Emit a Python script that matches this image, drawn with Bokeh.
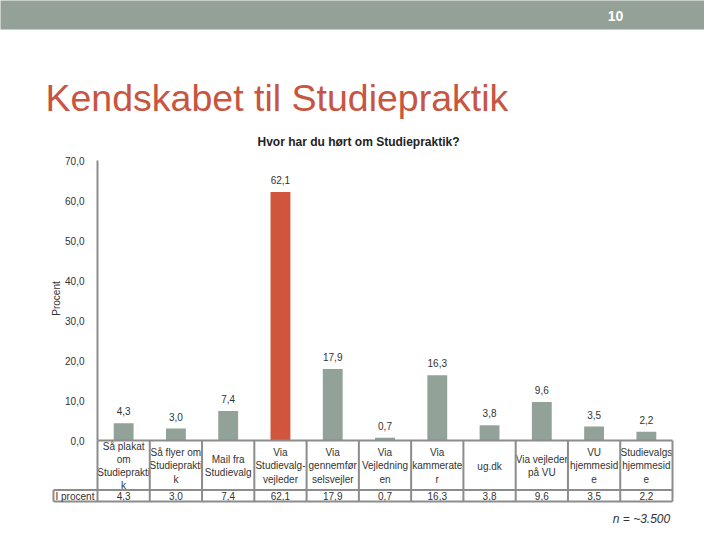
import numpy as np
from bokeh.plotting import figure
from bokeh.models import Range1d, FixedTicker, ColumnDataSource
from bokeh.embed import file_html
from bokeh.resources import INLINE
from bokeh.core.properties import value

# ---------------- data ----------------
categories = [
    "Så plakat\nom\nStudieprakti\nk",
    "Så flyer om\nStudieprakti\nk",
    "Mail fra\nStudievalg",
    "Via\nStudievalg-\nvejleder",
    "Via\ngennemfør\nselsvejler",
    "Via\nVejledning\nen",
    "Via\nkammerate\nr",
    "ug.dk",
    "Via vejleder\npå VU",
    "VU\nhjemmesid\ne",
    "Studievalgs\nhjemmesid\ne",
]
values = [4.3, 3.0, 7.4, 62.1, 17.9, 0.7, 16.3, 3.8, 9.6, 3.5, 2.2]
highlight = "Via\nStudievalg-\nvejleder"
y_ticks = [0, 10, 20, 30, 40, 50, 60, 70]
y_tick_labels = ["0,0", "10,0", "20,0", "30,0", "40,0", "50,0", "60,0", "70,0"]
row_label = "I procent"
axis_title = "Procent"
chart_title = "Hvor har du hørt om Studiepraktik?"
slide_title = "Kendskabet til Studiepraktik"
page_number = "10"
note = "n = ~3.500"

# ---------------- style ----------------
FONT = "Liberation Sans"
GRAY_BAR = "#93A299"
RED_BAR = "#D1553C"
HEADER = "#93A197"
TITLE_RED = "#C8553F"
LINE = "#8C8C8C"
TXT = "#333333"

W, H = 704, 524
n = len(categories)
FRAME_L, FRAME_R = 97, 672  # reference px
FRAME_T = 72                # frame top (so the axis title centres at y~298)
CW = (FRAME_R - FRAME_L) / n
PXU = 4.0  # px per unit
Y0 = 440


def dx(rx):
    return (rx - FRAME_L) / CW


def dy(ry):
    return (Y0 - ry) / PXU


p = figure(width=W, height=H, output_backend="svg", toolbar_location=None,
           title=None, x_axis_location=None,
           x_range=Range1d(0, n), y_range=Range1d(dy(H), dy(FRAME_T)),
           min_border_left=FRAME_L, min_border_right=W - FRAME_R,
           min_border_top=FRAME_T, min_border_bottom=0)
p.outline_line_color = None
p.grid.visible = False
p.background_fill_color = "white"
p.border_fill_color = "white"

ax = p.yaxis[0]
ax.bounds = (0, 70)
ax.ticker = FixedTicker(ticks=y_ticks)
ax.major_label_overrides = {t: l for t, l in zip(y_ticks, y_tick_labels)}
ax.major_tick_line_color = None
ax.minor_tick_line_color = None
ax.axis_line_color = LINE
ax.axis_line_width = 2
ax.major_label_text_font = FONT
ax.major_label_text_font_size = "10px"
ax.major_label_text_color = TXT
ax.major_label_standoff = 7
ax.axis_label = axis_title
ax.axis_label_text_font = FONT
ax.axis_label_text_font_size = "10px"
ax.axis_label_text_font_style = "normal"
ax.axis_label_text_color = TXT
ax.axis_label_standoff = 0

xs = [i + 0.5 for i in range(n)]
colors = [RED_BAR if c == highlight else GRAY_BAR for c in categories]
labels = [f"{v:.1f}".replace(".", ",") for v in values]
src = ColumnDataSource(dict(x=xs, v=values, c=colors, lab=labels, cat=categories))

p.vbar(x="x", top="v", bottom=0, width=0.38, fill_color="c", line_color=None, source=src)
p.text(x="x", y="v", text="lab", source=src, text_align="center", text_baseline="middle",
       y_offset=-12, text_font=value(FONT), text_font_size="10px", text_color=TXT)

# ---------------- table ----------------
y_top, y_mid, y_bot = dy(440), dy(489.5), dy(501)
seg_x0 = [0, dx(53), dx(53)] + list(range(n + 1)) + [dx(53)]
seg_x1 = [n, n, n] + list(range(n + 1)) + [dx(53)]
seg_y0 = [y_top, y_mid, y_bot] + [y_top] * (n + 1) + [y_mid]
seg_y1 = [y_top, y_mid, y_bot] + [y_bot] * (n + 1) + [y_bot]
p.segment(x0=seg_x0, y0=seg_y0, x1=seg_x1, y1=seg_y1, line_color=LINE, line_width=2,
          level="overlay")

p.text(x="x", y=dy(465.5), text="cat", source=src, text_align="center", text_baseline="middle",
       text_font=value(FONT), text_font_size="10px", text_color=TXT, text_line_height=1.2)
p.text(x="x", y=dy(495.5), text="lab", source=src, text_align="center", text_baseline="middle",
       text_font=value(FONT), text_font_size="10px", text_color=TXT)


def label(rx, ry, txt, size, align="center", baseline="middle", style="normal", color=TXT):
    p.text(x=[dx(rx)], y=[dy(ry)], text=[txt], text_align=align, text_baseline=baseline,
           text_font=value(FONT), text_font_size=size, text_font_style=style,
           text_color=color, level="overlay")


label(55, 495.5, row_label, "10px", align="left")

# ---------------- decorations ----------------
p.quad(left=[dx(0)], right=[dx(W)], top=[dy(0)], bottom=[dy(29)],
       fill_color=HEADER, line_color=None, level="overlay")
label(615, 15, page_number, "14px", style="bold", color="white")
label(45, 97, slide_title, "37.5px", align="left", baseline="alphabetic", color=TITLE_RED)
label(358, 141, chart_title, "12px", style="bold", color="#222222")
label(641, 518, note, "12px", style="italic")

open("out.html", "w").write(file_html(p, INLINE))
